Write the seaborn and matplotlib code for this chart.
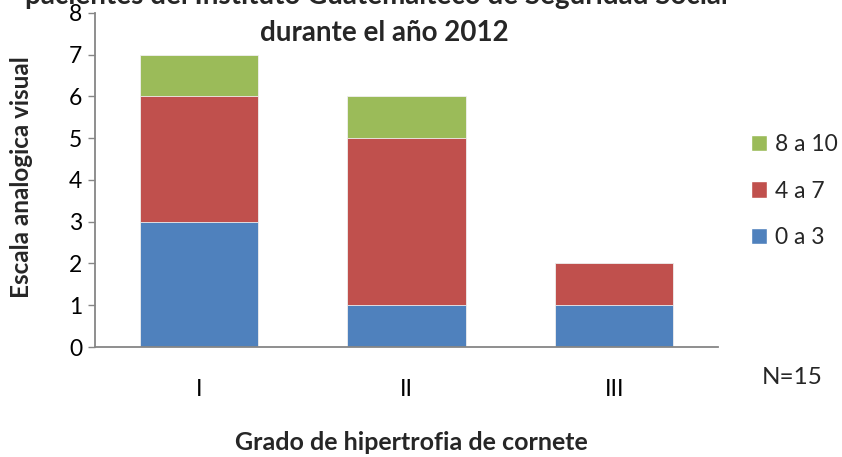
import seaborn as sns
import matplotlib.pyplot as plt
import pandas as pd
from matplotlib.patches import Patch

# Data -----

grados = ["I", "II", "III"]
bajo = [3, 1, 1]      # 0 a 3
medio = [3, 4, 1]     # 4 a 7
alto = [1, 1, 0]      # 8 a 10
series_labels = ["0 a 3", "4 a 7", "8 a 10"]
colors = ["#4F81BD", "#C0504D", "#9BBB59"]

titulo_1 = "pacientes del Instituto Guatemalteco de Seguridad Social"
titulo_2 = "durante el año 2012"

# Cumulative tops for stacking -----

df = pd.DataFrame({"grado": grados, "bajo": bajo, "medio": medio, "alto": alto})
df["c1"] = df["bajo"]
df["c2"] = df["c1"] + df["medio"]
df["c3"] = df["c2"] + df["alto"]

sns.set_theme(style="white")
plt.rcParams["font.family"] = ["Lato", "DejaVu Sans"]

fig = plt.figure(figsize=(8.42, 4.57), dpi=100)
ax = fig.add_axes([0.1128, 0.2407, 0.7399, 0.7309])

for col, color in zip(["c3", "c2", "c1"], colors[::-1]):
    sns.barplot(
        data=df, x="grado", y=col, color=color, width=0.57,
        saturation=1, edgecolor="#f0f0f0", linewidth=0.6, ax=ax,
    )

ax.set_xlim(-0.5, 2.5)
ax.set_ylim(0, 8)
ax.set_yticks(range(0, 9))
ax.set_xlabel("")
ax.set_ylabel("")
for s in ["top", "right"]:
    ax.spines[s].set_visible(False)
for s in ["left", "bottom"]:
    ax.spines[s].set_color("#868686")
    ax.spines[s].set_linewidth(1.3)
ax.tick_params(axis="y", left=True, length=5, width=1, color="#868686",
               labelsize=16.5, pad=4, labelcolor="black")
ax.tick_params(axis="x", bottom=False, length=0, labelsize=16.5, pad=23,
               labelcolor="black")

fig.text(22 / 842, 1 - 177 / 457, "Escala analogica visual", rotation=90,
         ha="center", va="center", fontsize=17.5, fontweight="bold")
fig.text(411 / 842, 1 - 443 / 457, "Grado de hipertrofia de cornete",
         ha="center", va="center", fontsize=18, fontweight="bold")
fig.text(792 / 842, 1 - 378 / 457, "N=15", ha="center", va="center", fontsize=17.5)
fig.text(376 / 842, 1 - (-4) / 457, titulo_1, ha="center", va="center",
         fontsize=20, fontweight="bold")
fig.text(384 / 842, 1 - 33 / 457, titulo_2, ha="center", va="center",
         fontsize=20, fontweight="bold")

handles = [Patch(facecolor=c) for c in colors[::-1]]
ax.legend(handles, series_labels[::-1], loc="center left",
          bbox_to_anchor=(751 / 842, 1 - 191 / 457), bbox_transform=fig.transFigure,
          frameon=False, fontsize=16.5, handlelength=0.7, handleheight=0.7,
          handletextpad=0.35, labelspacing=1.12, borderpad=0, borderaxespad=0)

fig.savefig("out.png", dpi=100)
